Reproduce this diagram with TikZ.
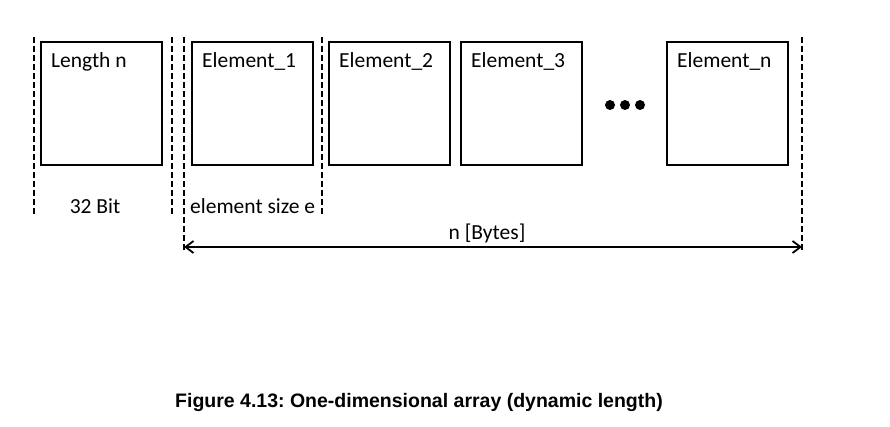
\documentclass[tikz,border=0pt]{standalone}
\usepackage{fontspec}
\setmainfont{Carlito}
\newfontfamily\captionfont{Liberation Sans}
\usetikzlibrary{positioning,arrows.meta}
\frenchspacing

\begin{document}
\begin{tikzpicture}[
    x=1pt, y=-1pt,
    box/.style={draw, rectangle, line width=2.2pt, minimum width=121pt, minimum height=123pt, inner sep=0pt, outer sep=0pt},
    boxtext/.style={anchor=north west, inner sep=0pt, xshift=10pt, yshift=-10pt, font=\fontsize{21.5pt}{26pt}\selectfont},
    txt/.style={inner sep=0pt, font=\fontsize{21.5pt}{26pt}\selectfont},
    sep/.style={line width=2.2pt, dash pattern=on 6pt off 3pt},
    arrow/.style={{Straight Barb[length=8pt,width=12pt]}-{Straight Barb[length=8pt,width=12pt]}, line width=1.8pt}
]
\useasboundingbox (0,0) rectangle (890,427);

% Felder des Arrays
\node[box, label={[boxtext]north west:Length n}] (len) at (101.5,103.5) {};
\node[box, label={[boxtext]north west:Element\_1}, right=30pt of len] (el1) {};
\node[box, label={[boxtext]north west:Element\_2}, right=16pt of el1] (el2) {};
\node[box, label={[boxtext]north west:Element\_3}, right=11pt of el2] (el3) {};
\node[box, label={[boxtext]north west:Element\_n}, right=85pt of el3] (eln) {};

% Punkte
\foreach \x in {610,625,640}
    \fill (\x,105) circle (5pt);

% Trennlinien
\foreach \n/\x/\b in {a/34/215, b/172/215, c/184/252, d/322/215, e/802/250} {
    \coordinate (\n top) at (\x,37);
    \coordinate (\n bot) at (\x,\b);
    \draw[sep] (\n top) -- (\n bot);
}

% Beschriftungen
\node[txt, anchor=base] (bit) at (95,214) {32 Bit};
\node[txt, anchor=base west] (esize) at (190,214) {element size e};
\node[txt, anchor=base] (bytes) at (487,240) {n [Bytes]};

% Gesamtlaenge
\coordinate (astart) at (184,247);
\coordinate (aend) at (802,247);
\draw[arrow] (astart) -- (aend);

% Bildunterschrift
\node[inner sep=0pt, anchor=base, font=\captionfont\bfseries\fontsize{19.5pt}{23pt}\selectfont] (caption) at (419,407)
    {Figure 4.13: One-dimensional array (dynamic length)};

\end{tikzpicture}
\end{document}
